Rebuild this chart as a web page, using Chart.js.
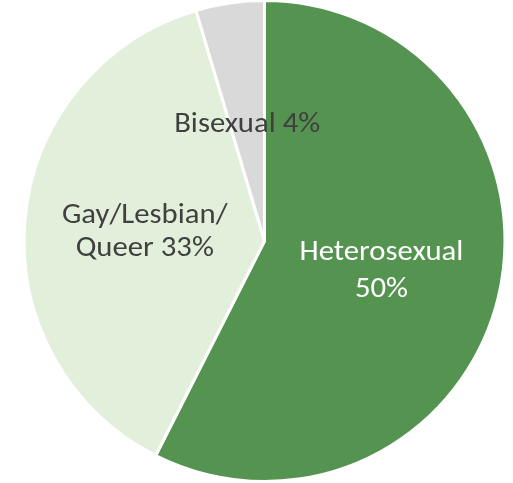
<!DOCTYPE html>
<html>
<head>
<meta charset="utf-8">
<script src="https://cdn.jsdelivr.net/npm/chart.js@4"></script>
<style>
html,body{margin:0;padding:0;background:#fff;}
canvas{display:block;}
</style>
</head>
<body>
<canvas id="c" width="513" height="483"></canvas>
<script>
// ---- data ----
const categories = ["Heterosexual", "Gay/Lesbian/Queer", "Bisexual"];
const values = [50, 33, 4];
const labelLines = [
  ["Heterosexual", "50%"],
  ["Gay/Lesbian/", "Queer 33%"],
  ["Bisexual 4%"]
];

// ---- style ----
const sliceColors = ["#559450", "#E2EFDA", "#D9D9D9"];
const textColors = ["#FFFFFF", "#404040", "#404040"];
const lineGaps = [37.6, 32.4, 32];
const FONT = "29px Carlito, Lato, sans-serif";
const X_STRETCH = 1.06;

const labelPlugin = {
  id: "sliceLabels",
  afterDatasetsDraw(chart) {
    const ctx = chart.ctx;
    const meta = chart.getDatasetMeta(0);
    ctx.save();
    ctx.font = FONT;
    ctx.textAlign = "center";
    ctx.textBaseline = "alphabetic";
    const cap = ctx.measureText("H").actualBoundingBoxAscent;
    meta.data.forEach((arc, i) => {
      const p = arc.getCenterPoint();
      const lines = labelLines[i];
      const gap = lineGaps[i];
      const n = lines.length;
      const first = p.y - gap * (n - 1) / 2 + cap / 2;
      ctx.fillStyle = textColors[i];
      lines.forEach((t, k) => {
        ctx.save();
        ctx.translate(p.x, first + k * gap);
        ctx.scale(X_STRETCH, 1);
        ctx.fillText(t, 0, 0);
        ctx.restore();
      });
    });
    ctx.restore();
  }
};

new Chart(document.getElementById("c"), {
  type: "pie",
  data: {
    labels: categories,
    datasets: [{
      data: values,
      backgroundColor: sliceColors,
      borderColor: "#FFFFFF",
      borderWidth: 3
    }]
  },
  options: {
    responsive: false,
    animation: false,
    radius: 240.5,
    layout: { padding: { left: 16, right: 0, top: 0, bottom: 1 } },
    plugins: { legend: { display: false }, tooltip: { enabled: false } }
  },
  plugins: [labelPlugin]
});
</script>
</body>
</html>
